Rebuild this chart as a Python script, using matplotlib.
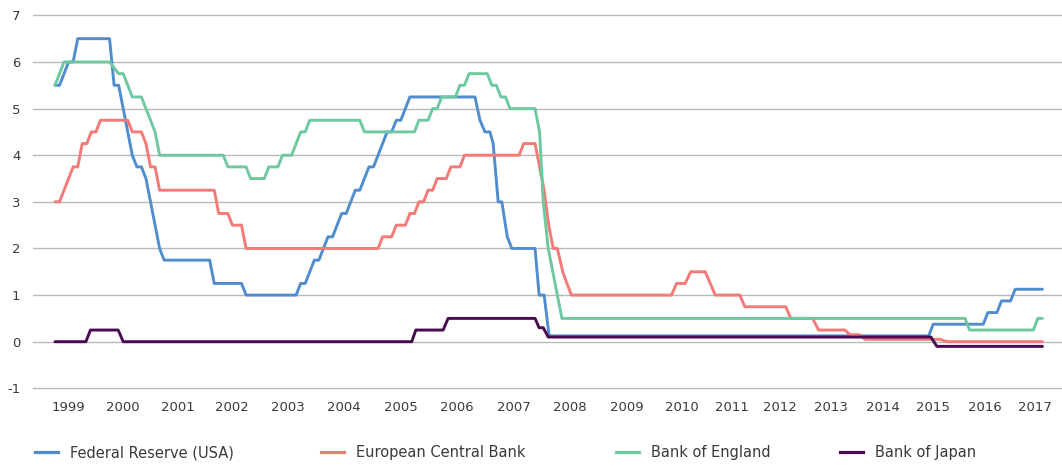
import numpy as np
import matplotlib
matplotlib.use("Agg")
from matplotlib import pyplot as plt
from matplotlib.lines import Line2D

#%% data (x = months from the first point, Nov 1999)
fed_m = [0, 1, 3, 4, 5, 12, 13, 14, 15, 16, 17, 18, 19, 20, 21, 22, 23, 24,
         34, 35, 41, 42, 53,
         54, 55, 56, 57, 58, 59, 60, 61, 62, 63, 64, 65, 66, 67, 68, 69, 70,
         71, 72, 73, 74, 75, 76, 77, 78,
         92.3, 93.4, 94.5, 95.6, 96.3, 97.4, 98.2, 99.4, 100.4, 105.5, 106.4, 107.5, 108.6,
         192, 193, 204, 205, 207, 208, 210, 211, 217]
fed_rate = [5.5, 5.5, 6.0, 6.0, 6.5, 6.5, 5.5, 5.5, 5.0, 4.5, 4.0, 3.75, 3.75, 3.5, 3.0, 2.5, 2.0, 1.75,
            1.75, 1.25, 1.25, 1.0, 1.0,
            1.25, 1.25, 1.5, 1.75, 1.75, 2.0, 2.25, 2.25, 2.5, 2.75, 2.75, 3.0, 3.25, 3.25, 3.5, 3.75, 3.75,
            4.0, 4.25, 4.5, 4.5, 4.75, 4.75, 5.0, 5.25,
            5.25, 4.75, 4.5, 4.5, 4.25, 3.0, 3.0, 2.25, 2.0, 2.0, 1.0, 1.0, 0.125,
            0.125, 0.375, 0.375, 0.625, 0.625, 0.875, 0.875, 1.125, 1.125]

ecb_m = [0, 1, 4, 5, 6, 7, 8, 9, 10, 16, 17, 19, 20, 21, 22, 23,
         35, 36, 38, 39, 41, 42,
         71, 72, 74, 75, 77, 78, 79, 80, 81, 82, 83, 84, 86, 87, 89, 90,
         102, 103, 105.5, 106.5, 107.5, 108.5, 109.5, 110.4, 111.6, 112.5, 113.5,
         135.5, 136.6, 138.5, 139.7, 142.9, 145.1, 150.5, 151.6, 160.6, 161.7,
         166.5, 167.8, 173.6, 174.7, 176.8, 178, 194.5, 196, 217]
ecb_rate = [3.0, 3.0, 3.75, 3.75, 4.25, 4.25, 4.5, 4.5, 4.75, 4.75, 4.5, 4.5, 4.25, 3.75, 3.75, 3.25,
            3.25, 2.75, 2.75, 2.5, 2.5, 2.0,
            2.0, 2.25, 2.25, 2.5, 2.5, 2.75, 2.75, 3.0, 3.0, 3.25, 3.25, 3.5, 3.5, 3.75, 3.75, 4.0,
            4.0, 4.25, 4.25, 3.75, 3.25, 2.5, 2.0, 2.0, 1.5, 1.25, 1.0,
            1.0, 1.25, 1.25, 1.5, 1.5, 1.0, 1.0, 0.75, 0.75, 0.5,
            0.5, 0.25, 0.25, 0.15, 0.15, 0.05, 0.05, 0.0, 0.0]

boe_m = [0, 2, 12, 14, 15, 17, 19, 20, 21, 22, 23,
         37, 38, 42, 43, 46, 47, 49, 50, 52, 53, 54, 55, 56,
         67, 68, 79, 80, 82, 83, 84, 85, 88, 89, 90, 91, 95, 96, 97, 98, 99, 100,
         105.5, 106.5, 107.3, 108.4, 109.4, 110.4, 111.4,
         200, 201, 215, 216, 217]
boe_rate = [5.5, 6.0, 6.0, 5.75, 5.75, 5.25, 5.25, 5.0, 4.75, 4.5, 4.0,
            4.0, 3.75, 3.75, 3.5, 3.5, 3.75, 3.75, 4.0, 4.0, 4.25, 4.5, 4.5, 4.75,
            4.75, 4.5, 4.5, 4.75, 4.75, 5.0, 5.0, 5.25, 5.25, 5.5, 5.5, 5.75, 5.75, 5.5, 5.5, 5.25, 5.25, 5.0,
            5.0, 4.5, 3.0, 2.0, 1.5, 1.0, 0.5,
            0.5, 0.25, 0.25, 0.5, 0.5]

boj_m = [0, 6.8, 7.8, 13.9, 15, 78.4, 79.3, 85.3, 86.4, 105.5, 106.4, 107.3, 108.4, 192.5, 193.8, 217]
boj_rate = [0.0, 0.0, 0.25, 0.25, 0.0, 0.0, 0.25, 0.25, 0.5, 0.5, 0.3, 0.3, 0.1, 0.1, -0.1, -0.1]

years = ['1999', '2000', '2001', '2002', '2003', '2004', '2005', '2006', '2007', '2008',
         '2009', '2010', '2011', '2012', '2013', '2014', '2015', '2016', '2017']
year_pos = [2.9, 15.0, 27.0, 38.9, 51.2, 63.5, 76.0, 88.4, 100.9, 113.2,
            125.7, 137.8, 148.8, 159.3, 170.5, 182.0, 193.0, 204.4, 215.4]

names = ['Federal Reserve (USA)', 'European Central Bank', 'Bank of England', 'Bank of Japan']
colours = ['#4f8dcf', '#f37a77', '#6ec8a0', '#480a50']

#%% plot
plt.rcParams['font.family'] = ['DejaVu Sans']
plt.rcParams['axes.unicode_minus'] = False
fig = plt.figure(figsize=(10.62, 4.66), dpi=100)
ax = fig.add_axes([0.031, 0.1667, 0.969, 0.8003])

series = [(fed_m, fed_rate), (ecb_m, ecb_rate), (boe_m, boe_rate), (boj_m, boj_rate)]
for (xs, ys), name, c in zip(series, names, colours):
    ax.plot(xs, ys, color=c, lw=2.1, label=name, solid_joinstyle='round', solid_capstyle='round')

ax.set_ylim(-1, 7)
ax.set_xlim(-4.84, 221.3)
ax.set_yticks(range(-1, 8))
ax.set_xticks(year_pos)
ax.set_xticklabels(years)
ax.grid(axis='y', color='#b8b8b8', lw=1)
ax.set_axisbelow(True)
for gl in ax.get_ygridlines():
    gl.set_clip_on(False)
for s in ax.spines.values():
    s.set_visible(False)
ax.tick_params(axis='both', length=0, labelsize=9.5, labelcolor='#3a3a3a')
ax.tick_params(axis='y', pad=9)
ax.tick_params(axis='x', pad=9)

# one legend entry per slot so the spacing follows the original
leg_x = [35, 321, 616, 840]
for name, c, x0 in zip(names, colours, leg_x):
    h = Line2D([], [], color=c, lw=2.3)
    leg = fig.legend([h], [name], loc='center left', bbox_to_anchor=(x0 / 1062, 1 - 453 / 466),
                     frameon=False, fontsize=10.5, handlelength=1.55, handletextpad=0.85,
                     borderpad=0, borderaxespad=0)
    leg.get_texts()[0].set_color('#3a3a3a')

fig.savefig('out.png', dpi=100)
